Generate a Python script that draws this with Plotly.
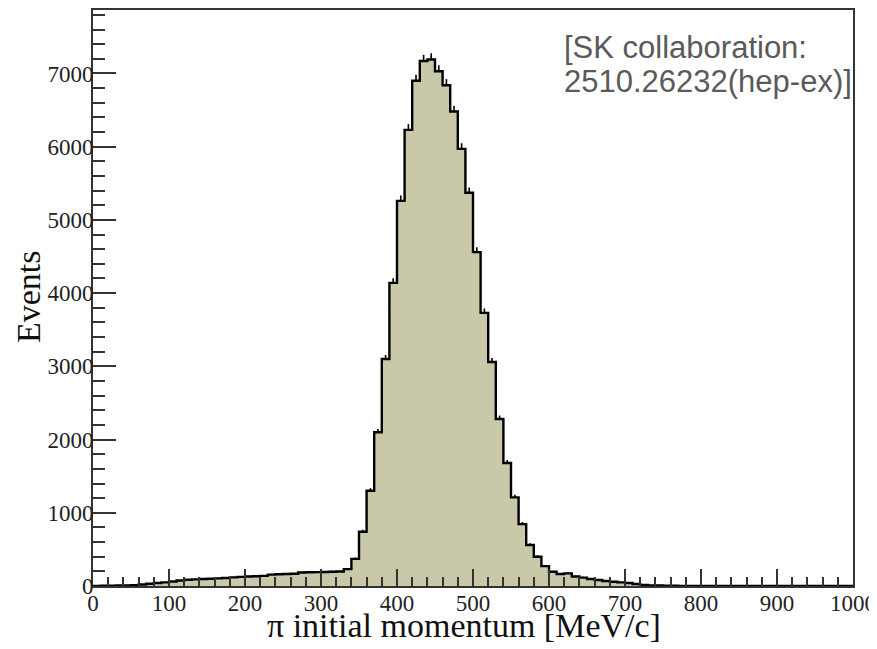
import numpy as np
import plotly.graph_objects as go

# Histogram: pi initial momentum [MeV/c], 10 MeV/c bins from 0 to 1000
bin_width = 10
x_min, x_max = 0, 1000
counts = [
    2, 3, 5, 6, 8, 10,
    20, 30, 40, 50,
    62, 75,
    85, 90, 95, 100, 104,
    110, 118,
    125, 130, 134, 138,
    155, 160, 164, 168,
    185, 188, 190, 192, 195, 198,
    230, 370, 740, 1300, 2100, 3100, 4140, 5260, 6230, 6900,
    7170, 7190, 7030, 6840, 6480, 5970, 5370, 4560, 3730, 3060,
    2280, 1680, 1210, 845, 560, 400, 272, 195, 163, 172,
    130, 115, 95, 82, 68, 59, 50, 41, 27, 14,
    9, 6, 4, 3, 2, 1, 1,
    0, 0, 0, 0, 0, 0, 0, 0, 0, 0,
    0, 0, 0, 0, 0, 0, 0, 0, 0, 0,
]
x_ticks = [0, 100, 200, 300, 400, 500, 600, 700, 800, 900, 1000]
y_ticks = [0, 1000, 2000, 3000, 4000, 5000, 6000, 7000]
x_title = "π initial momentum [MeV/c]"
y_title = "Events"
note_lines = ["[SK collaboration:", "2510.26232(hep-ex)]"]

edges = np.arange(x_min, x_max + bin_width, bin_width)
centers = edges[:-1] + bin_width / 2
step_y = list(counts) + [counts[-1]]

fill_col = "#c9c9a9"
serif = "Liberation Serif"

# page has an 8px body margin: figure is offset by 8px right and down
W, H = 869, 641
ML, MR, MT, MB = 85, 24, 0, 63
plot_w = W - ML - MR
plot_h = H - MT - MB
PAGE_OFF = 8


def px(page_x):
    return (page_x - PAGE_OFF - ML) / plot_w


def py(page_y):
    return (H - MB - (page_y - PAGE_OFF)) / plot_h


fig = go.Figure()
# statistical error ticks (lower half hidden by the filled histogram drawn after)
fig.add_trace(go.Scatter(
    x=centers, y=counts, mode="markers",
    marker=dict(size=1, color="rgba(0,0,0,0)"),
    error_y=dict(type="sqrt", color="black", thickness=1.6, width=0),
    hoverinfo="skip", showlegend=False,
))
fig.add_trace(go.Scatter(
    x=edges, y=step_y, mode="lines", line_shape="hv",
    line=dict(color="black", width=2.4),
    fill="tozeroy", fillcolor=fill_col, showlegend=False,
))

axis_common = dict(
    showline=True, linecolor="#333333", linewidth=1.6, mirror=True,
    showgrid=False, zeroline=False, ticks="inside", tickcolor="#333333",
    tickwidth=1.6, tickfont=dict(family=serif, size=23, color="#222222"),
)
fig.update_xaxes(
    range=[x_min, x_max], tickvals=x_ticks, ticklen=17,
    minor=dict(ticks="inside", dtick=20, tick0=0, ticklen=9, tickwidth=1.6,
               tickcolor="#333333", showgrid=False),
    ticklabelstandoff=-4,
    **axis_common,
)
fig.update_yaxes(
    range=[0, 7867], tickvals=y_ticks, ticklen=23,
    minor=dict(ticks="inside", dtick=200, tick0=0, ticklen=12, tickwidth=1.6,
               tickcolor="#333333", showgrid=False),
    ticklabelstandoff=-7,
    **axis_common,
)

annotations = [
    dict(text=x_title, xref="paper", yref="paper", x=px(464), y=py(626),
         xanchor="center", yanchor="middle", showarrow=False,
         font=dict(family=serif, size=34, color="#111111")),
    dict(text=y_title, xref="paper", yref="paper", x=px(28), y=py(296),
         xanchor="center", yanchor="middle", textangle=-90, showarrow=False,
         font=dict(family=serif, size=34, color="#111111")),
]
for line, yc in zip(note_lines, [46, 80]):
    annotations.append(dict(
        text=line, xref="paper", yref="paper", x=px(562), y=py(yc),
        xanchor="left", yanchor="middle", align="left", showarrow=False,
        font=dict(family="Liberation Sans", size=31, color="#5a5a5a")))

fig.update_layout(
    width=W, height=H,
    margin=dict(l=ML, r=MR, t=MT, b=MB),
    paper_bgcolor="white", plot_bgcolor="white",
    annotations=annotations,
)

fig.write_html("out.html")
